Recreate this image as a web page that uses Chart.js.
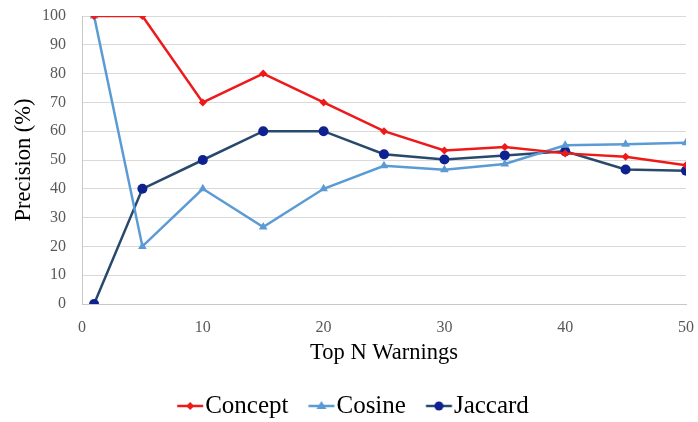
<!DOCTYPE html>
<html>
<head>
<meta charset="utf-8">
<script src="https://cdn.jsdelivr.net/npm/chart.js@4.4.1/dist/chart.umd.min.js"></script>
<style>
html,body{margin:0;padding:0;background:#fff;}
#wrap{width:698px;height:422px;position:relative;}
</style>
</head>
<body>
<div id="wrap"><canvas id="c" width="698" height="422"></canvas></div>
<script>
const topN = [1, 5, 10, 15, 20, 25, 30, 35, 40, 45, 50];
const concept = [100, 100, 70, 80, 70, 60, 53.3, 54.5, 52.3, 51.1, 48.2];
const cosine = [100, 20, 40, 26.7, 40, 48, 46.6, 48.6, 55.1, 55.5, 56];
const jaccard = [0, 40, 50, 60, 60, 52, 50.2, 51.6, 53, 46.7, 46.3];
const xTicks = [0, 10, 20, 30, 40, 50];
const yTicks = [0, 10, 20, 30, 40, 50, 60, 70, 80, 90, 100];

const FONT = "'Liberation Serif','Times New Roman',serif";
const RED = '#ee1a1a', LIGHT = '#5b9bd5', DARKLINE = '#28496c', DARKPT = '#0d2290';

function toXY(arr){ return topN.map((x,i)=>({x:x,y:arr[i]})); }

// legend icon: line segment with marker, offset to the right of the icon centre
function legendIcon(lineColor, ptColor, shape){
  const c = document.createElement('canvas');
  c.width = 60; c.height = 14;
  const g = c.getContext('2d');
  const x0 = 32.25, x1 = 58.25, cx = (x0 + x1) / 2;
  g.strokeStyle = lineColor; g.lineWidth = 2.5;
  g.beginPath(); g.moveTo(x0,7); g.lineTo(x1,7); g.stroke();
  g.fillStyle = ptColor;
  g.beginPath();
  if (shape==='diamond'){ g.moveTo(cx,3); g.lineTo(cx+4,7); g.lineTo(cx,11); g.lineTo(cx-4,7); g.closePath(); }
  else if (shape==='tri'){ g.moveTo(cx,2); g.lineTo(cx+5,10); g.lineTo(cx-5,10); g.closePath(); }
  else { g.arc(cx,7,4.5,0,Math.PI*2); }
  g.fill();
  return c;
}
const icons = [legendIcon(RED,RED,'diamond'), legendIcon(LIGHT,LIGHT,'tri'), legendIcon(DARKLINE,DARKPT,'circle')];

new Chart(document.getElementById('c'), {
  type: 'line',
  data: {
    datasets: [
      {label:'Concept', data: toXY(concept), borderColor: RED, backgroundColor: RED, borderWidth: 2.5,
       pointStyle:'rectRot', pointRadius: 4, pointBorderWidth: 0, pointBackgroundColor: RED},
      {label:'Cosine', data: toXY(cosine), borderColor: LIGHT, backgroundColor: LIGHT, borderWidth: 2.5,
       pointStyle:'triangle', pointRadius: 5, pointBorderWidth: 0, pointBackgroundColor: LIGHT},
      {label:'Jaccard', data: toXY(jaccard), borderColor: DARKLINE, backgroundColor: DARKPT, borderWidth: 2.5,
       pointStyle:'circle', pointRadius: 5, pointBorderWidth: 0, pointBackgroundColor: DARKPT}
    ]
  },
  options: {
    responsive: false,
    animation: false,
    events: [],
    layout: { padding: { left: 0, right: 12, top: 16, bottom: -6.5 } },
    plugins: {
      tooltip: { enabled: false },
      legend: {
        position: 'bottom',
        labels: {
          usePointStyle: true,
          pointStyleWidth: 35.5,
          padding: 0,
          color: '#000',
          font: { family: FONT, size: 25 },
          generateLabels: function(chart){
            return chart.data.datasets.map((ds,i)=>({
              text: ds.label, pointStyle: icons[i], fillStyle: ds.borderColor,
              strokeStyle: ds.borderColor, lineWidth: 0, hidden: false, datasetIndex: i, fontColor: '#000'
            }));
          }
        }
      }
    },
    scales: {
      x: {
        type: 'linear', min: 0, max: 50,
        afterBuildTicks: (s)=>{ s.ticks = xTicks.map(v=>({value:v})); },
        afterFit: (s)=>{ s.height = 89.5; s.paddingLeft = 0; s.paddingRight = 0; },
        grid: { display: false, drawTicks: false },
        border: { display: true, color: '#c8c8c8', width: 1 },
        ticks: { padding: 14, color: '#595959', font: { family: FONT, size: 16 }, maxRotation: 0 },
        title: { display: true, text: 'Top N Warnings', color: '#000', font: { family: FONT, size: 22.5 }, padding: { top: 0, bottom: 27 } }
      },
      y: {
        min: 0, max: 100,
        afterBuildTicks: (s)=>{ s.ticks = yTicks.map(v=>({value:v})); },
        afterFit: (s)=>{ s.width = 82; s.paddingTop = 0; s.paddingBottom = 0; },
        grid: { color: '#d9d9d9', lineWidth: 1, drawTicks: false },
        border: { display: true, color: '#c8c8c8', width: 1 },
        ticks: { padding: 16, color: '#595959', font: { family: FONT, size: 16 } },
        title: { display: true, text: 'Precision (%)', color: '#000', font: { family: FONT, size: 22.5 }, padding: { top: 11, bottom: 0 } }
      }
    }
  }
});
</script>
</body>
</html>
